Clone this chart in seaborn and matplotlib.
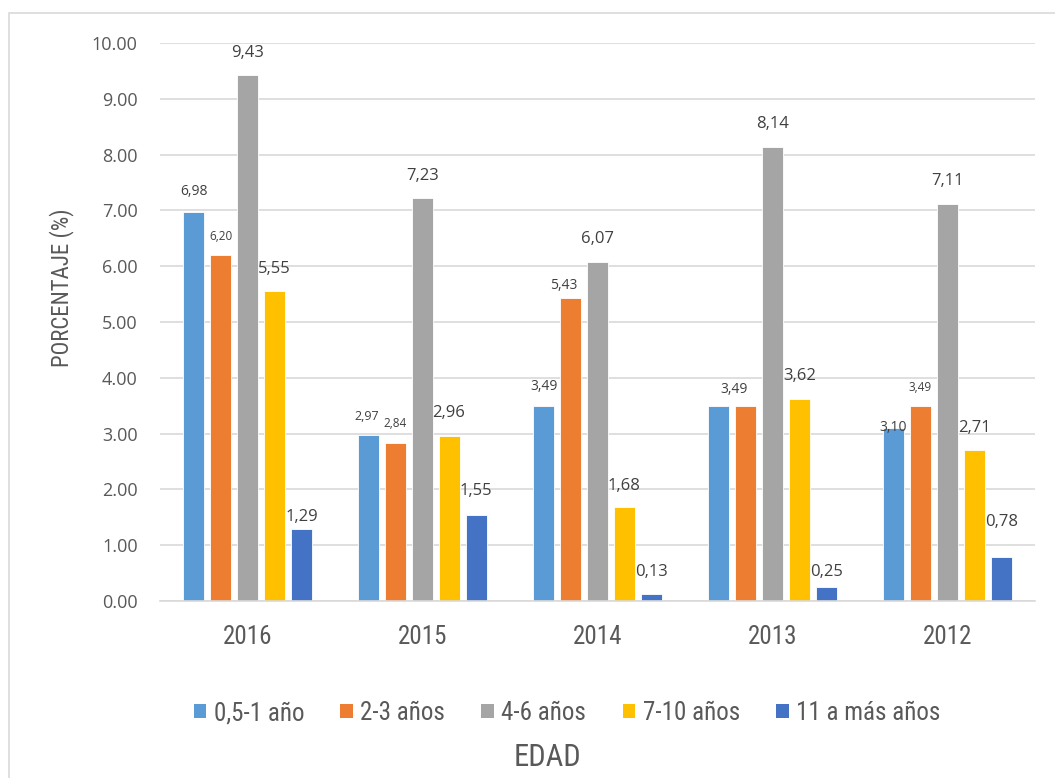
import matplotlib
matplotlib.use("Agg")
import matplotlib.pyplot as plt
from matplotlib import font_manager
from matplotlib.patches import Rectangle
import seaborn as sns
import pandas as pd

# ---- data -------------------------------------------------------------
years = ["2016", "2015", "2014", "2013", "2012"]
groups = ["0,5-1 año", "2-3 años", "4-6 años", "7-10 años", "11 a más años"]

g_05_1 = [6.98, 2.97, 3.49, 3.49, 3.10]
g_2_3 = [6.20, 2.84, 5.43, 3.49, 3.49]
g_4_6 = [9.43, 7.23, 6.07, 8.14, 7.11]
g_7_10 = [5.55, 2.96, 1.68, 3.62, 2.71]
g_11 = [1.29, 1.55, 0.13, 0.25, 0.78]
series = [g_05_1, g_2_3, g_4_6, g_7_10, g_11]

colors = ["#5B9BD5", "#ED7D31", "#A5A5A5", "#FFC000", "#4472C4"]

# label placement: (dx, dy) in pixels relative to bar top, None = hidden
label_pos = [
    [(0, 20), (-2, 19), (0, 20), None, (0, 1)],
    [(0, 19), (0, 19), (-7, 13), (-11, 17), (0, 19)],
    [(0, 22), (0, 22), (0, 23), (0, 23), (0, 23)],
    [(0, 22), (-1, 23), (0, 21), (0, 23), (0, 22)],
    [(0, 12), (-1, 24), (0, 22), (0, 15), (0, 35)],
]
label_size = [
    [10, 9, 10, 10, 10],
    [8.5, 8.5, 10, 10, 8.5],
    [12, 12, 12, 12, 12],
    [12, 12, 12, 12, 12],
    [12, 12, 12, 12, 12],
]

# ---- fonts ------------------------------------------------------------
installed = {f.name for f in font_manager.fontManager.ttflist}


def pick_font(candidates):
    for name in candidates:
        if name in installed:
            return name
    return "DejaVu Sans"


narrow = pick_font(["Liberation Sans Narrow", "Roboto Condensed", "Liberation Sans"])
wide = pick_font(["Open Sans", "Noto Sans", "DejaVu Sans"])

sns.set_theme(style="white")
plt.rcParams["font.family"] = [narrow, "DejaVu Sans"]

rows = []
for g, vals in zip(groups, series):
    for y, v in zip(years, vals):
        rows.append({"year": y, "group": g, "value": v})
df = pd.DataFrame(rows)

W, H = 1055, 778
fig = plt.figure(figsize=(W / 100, H / 100), dpi=100)
ax = fig.add_axes([160 / W, 1 - 601 / H, 875 / W, 558 / H])

sns.barplot(data=df, x="year", y="value", hue="group", order=years,
            hue_order=groups, palette=colors, width=0.77, gap=0.2,
            saturation=1, edgecolor="white", linewidth=0.6, ax=ax)

ax.set_ylim(0, 10)
ax.set_xlim(-0.5, len(years) - 0.5)
ax.set_yticks(range(0, 11))
ax.set_yticklabels([f"{v:.2f}" for v in range(0, 11)], fontfamily=wide,
                   fontsize=13, color="#595959")
ax.tick_params(axis="x", labelsize=18, colors="#595959", length=0, pad=17)
ax.tick_params(axis="y", length=0, pad=16)
ax.yaxis.grid(True, color="#D9D9D9", linewidth=1.2)
ax.set_axisbelow(True)
for s in ["top", "right", "left"]:
    ax.spines[s].set_visible(False)
ax.spines["bottom"].set_color("#D9D9D9")
ax.spines["bottom"].set_linewidth(1.2)
ax.set_xlabel("")
ax.set_ylabel("")

# data labels
px = 72 / 100
for si, cont in enumerate(ax.containers):
    for yi, bar in enumerate(cont):
        pos = label_pos[si][yi]
        if pos is None:
            continue
        v = series[si][yi]
        ax.annotate(f"{v:.2f}".replace(".", ","),
                    (bar.get_x() + bar.get_width() / 2, v),
                    xytext=(pos[0] * px, pos[1] * px), textcoords="offset points",
                    ha="center", va="center", fontsize=label_size[si][yi],
                    fontfamily=wide, color="#404040", annotation_clip=False)

# legend
ax.get_legend().remove()
handles = [Rectangle((0, 0), 1, 1, facecolor=c, edgecolor="none") for c in colors]
fig.legend(handles, groups, loc="center", bbox_to_anchor=(567 / W, 1 - 713 / H),
           ncol=5, frameon=False, fontsize=18, labelcolor="#595959",
           handlelength=0.5, handleheight=0.5, handletextpad=0.3,
           columnspacing=1.45)

fig.text(62 / W, 1 - 288 / H, "PORCENTAJE (%)", rotation=90, ha="center",
         va="center", fontsize=16.5, color="#595959")
fig.text(547 / W, 1 - 757 / H, "EDAD", ha="center", va="center",
         fontsize=22, color="#595959")

# chart area border
fig.add_artist(Rectangle((8.5 / W, -0.1), 1.2, 1.1 - 13.5 / H,
                         transform=fig.transFigure, fill=False,
                         edgecolor="#D9D9D9", linewidth=1.2))

fig.savefig("out.png", dpi=100)
